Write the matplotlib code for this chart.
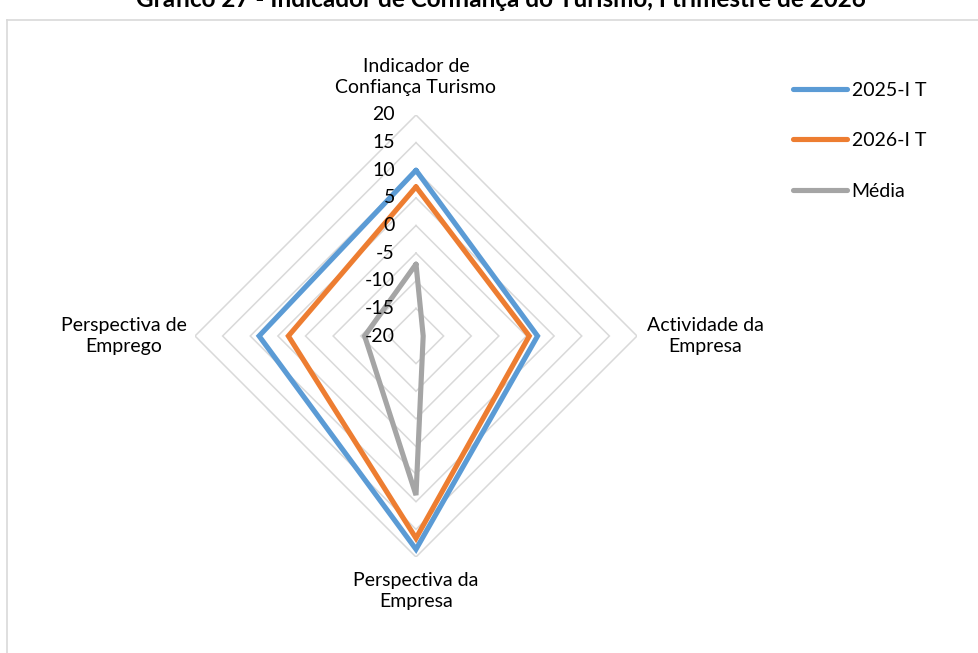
import numpy as np
import matplotlib
matplotlib.use("Agg")
import matplotlib.pyplot as plt
from matplotlib.lines import Line2D

plt.rcParams['font.family'] = ['Lato', 'DejaVu Sans']

# ---- data ----
categories = ["Indicador de\nConfiança Turismo", "Actividade da\nEmpresa",
              "Perspectiva da\nEmpresa", "Perspectiva de\nEmprego"]
series_names = ["2025-I T", "2026-I T", "Média"]
values_2025 = [10, 2, 18.6, 8.4]
values_2026 = [7, 0.5, 16.6, 3.1]
values_media = [-7, -18.7, 8.8, -10.7]
ticks = [-20, -15, -10, -5, 0, 5, 10, 15, 20]
title = "Gráfico 27 - Indicador de Confiança do Turismo, I trimestre de 2026"

colors = ["#5B9BD5", "#ED7D31", "#A5A5A5"]
grid_color = "#D9D9D9"
FS = 14

W, H = 979, 653
fig = plt.figure(figsize=(W / 100, H / 100), dpi=100)

cx, cy, R = 416, 336, 221
ax = fig.add_axes([(cx - R) / W, (H - cy - R) / H, 2 * R / W, 2 * R / H], projection='polar')
ax.set_theta_zero_location('N')
ax.set_theta_direction(-1)
ax.set_ylim(ticks[0], ticks[-1])
ax.grid(False)
ax.spines['polar'].set_visible(False)
ax.set_xticks([])
ax.set_yticks([])
ax.patch.set_alpha(0)

n = len(categories)
angles = np.linspace(0, 2 * np.pi, n, endpoint=False)
ang_closed = np.concatenate([angles, angles[:1]])

# diamond gridlines
for t in ticks[1:]:
    ax.plot(ang_closed, [t] * (n + 1), color=grid_color, lw=1.1, zorder=1,
            solid_joinstyle='miter')

# series
all_vals = [values_2025, values_2026, values_media]
for name, vals, c in zip(series_names, all_vals, colors):
    v = list(vals) + [vals[0]]
    ax.plot(ang_closed, v, color=c, lw=3.7, label=name, zorder=3,
            solid_joinstyle='miter', solid_capstyle='round')

# radial tick labels
for t in ticks:
    ax.annotate(str(t), xy=(0, t), xytext=(-21, 0), textcoords='offset pixels',
                ha='right', va='center', fontsize=FS, color='#000000',
                annotation_clip=False, zorder=4)

# category labels
offsets = [(0, 38, 'center'), (10, 0, 'left'), (0, -34, 'center'), (-8, 0, 'right')]
for ang, lab, (dx, dy, ha) in zip(angles, categories, offsets):
    ax.annotate(lab, xy=(ang, ticks[-1]), xytext=(dx, dy), textcoords='offset pixels',
                ha=ha, va='center', multialignment='center', fontsize=FS,
                linespacing=1.32, annotation_clip=False)

# legend
handles = [Line2D([], [], color=c, lw=3.7, solid_capstyle='round') for c in colors]
fig.legend(handles, series_names, loc='upper left',
           bbox_to_anchor=(793 / W, 1 - 81.5 / H), frameon=False, fontsize=FS,
           handlelength=2.8, handletextpad=0.22, labelspacing=1.73,
           borderaxespad=0, borderpad=0)

# chart border (partially visible)
fig.add_artist(Line2D([7 / W, 7 / W], [0, 1 - 20 / H], color=grid_color, lw=1.2,
                      transform=fig.transFigure))
fig.add_artist(Line2D([7 / W, 1], [1 - 20 / H, 1 - 20 / H], color=grid_color, lw=1.2,
                      transform=fig.transFigure))

# title (cut off at the top as in the reference)
fig.text(501 / W, 1 - 7 / H, title, ha='center', va='baseline',
         fontsize=17.5, fontweight='bold')

fig.savefig("out.png", dpi=100)
